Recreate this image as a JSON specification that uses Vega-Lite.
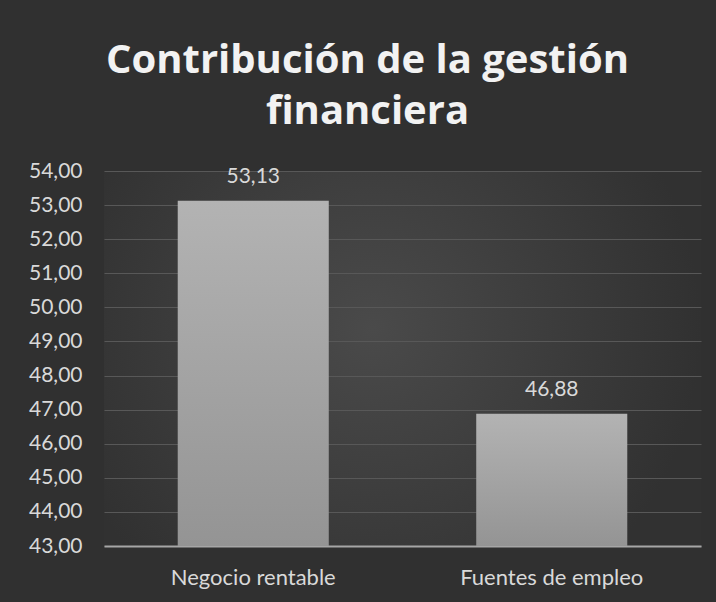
{
  "$schema": "https://vega.github.io/schema/vega-lite/v6.json",
  "autosize": {"type": "none"},
  "width": 597,
  "height": 375,
  "padding": {"left": 104, "top": 171, "right": 15, "bottom": 56},
  "background": "#303030",
  "config": {
    "locale": {"number": {"decimal": ",", "thousands": ".", "grouping": [3], "currency": ["", " €"]}},
    "view": {
      "stroke": null,
      "fill": {
        "gradient": "radial",
        "x1": 0.45, "y1": 0.45, "r1": 0,
        "x2": 0.45, "y2": 0.45, "r2": 0.55,
        "stops": [
          {"offset": 0, "color": "#4a4a4a"},
          {"offset": 1, "color": "#313131"}
        ]
      }
    },
    "font": "Lato"
  },
  "title": {
    "text": ["Contribución de la gestión", "financiera"],
    "font": "Open Sans",
    "fontSize": 40,
    "fontWeight": "bold",
    "color": "#f2f2f2",
    "anchor": "middle",
    "frame": "group",
    "lineHeight": 51,
    "dx": -35,
    "dy": -8,
    "offset": 20
  },
  "data": {
    "values": [
      {"categoria": "Negocio rentable", "valor": 53.13},
      {"categoria": "Fuentes de empleo", "valor": 46.88}
    ]
  },
  "encoding": {
    "x": {
      "field": "categoria",
      "type": "nominal",
      "sort": null,
      "scale": {"paddingInner": 0.494, "paddingOuter": 0.247},
      "axis": {
        "title": null,
        "labelAngle": 0,
        "labelFont": "Lato",
        "labelFontSize": 22,
        "labelColor": "#d9d9d9",
        "labelPadding": 21,
        "labelLimit": 0,
        "ticks": false,
        "domain": true,
        "domainColor": "#a6a6a6",
        "domainWidth": 2,
        "grid": false
      }
    },
    "y": {
      "field": "valor",
      "type": "quantitative",
      "scale": {"domain": [43, 54], "nice": false, "zero": false},
      "axis": {
        "title": null,
        "values": [43, 44, 45, 46, 47, 48, 49, 50, 51, 52, 53, 54],
        "format": ".2f",
        "labelFont": "Lato",
        "labelFontSize": 21,
        "labelColor": "#d9d9d9",
        "labelPadding": 22,
        "ticks": false,
        "domain": false,
        "grid": true,
        "gridColor": "#585858",
        "gridWidth": 1
      }
    }
  },
  "layer": [
    {
      "mark": {
        "type": "bar",
        "clip": true,
        "color": {
          "gradient": "linear",
          "x1": 0, "y1": 0, "x2": 0, "y2": 1,
          "stops": [
            {"offset": 0, "color": "#b3b3b3"},
            {"offset": 1, "color": "#949494"}
          ]
        }
      },
      "encoding": {
        "y2": {"datum": 43}
      }
    },
    {
      "mark": {
        "type": "text",
        "baseline": "alphabetic",
        "dy": -18,
        "font": "Lato",
        "fontSize": 21,
        "color": "#d9d9d9"
      },
      "encoding": {
        "text": {"field": "valor", "type": "quantitative", "format": ".2f"}
      }
    }
  ]
}
